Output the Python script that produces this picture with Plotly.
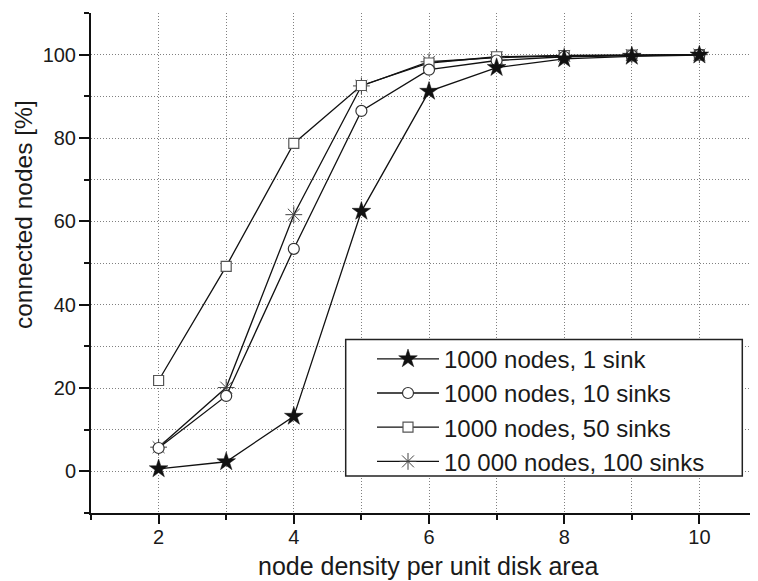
import plotly.graph_objects as go

density = [2, 3, 4, 5, 6, 7, 8, 9, 10]

s_1000_1 = [0.6, 2.3, 13.2, 62.4, 91.2, 96.9, 99.0, 99.6, 99.9]
s_1000_10 = [5.6, 18.1, 53.4, 86.5, 96.4, 98.6, 99.5, 99.8, 100.0]
s_1000_50 = [21.8, 49.2, 78.7, 92.6, 98.0, 99.5, 99.8, 99.9, 100.0]
s_10000_100 = [5.8, 20.1, 61.6, 92.5, 98.3, 99.3, 99.7, 99.9, 100.0]

names = ["1000 nodes, 1 sink", "1000 nodes, 10 sinks",
         "1000 nodes, 50 sinks", "10 000 nodes, 100 sinks"]

FONT = "Liberation Sans, Arial, Helvetica, sans-serif"
TXT = "#1a1a1a"

fig = go.Figure()

fig.add_trace(go.Scatter(
    x=density, y=s_10000_100, name=names[3], mode="lines+markers",
    line=dict(color="#111", width=1.3),
    marker=dict(symbol="asterisk-open", size=14, color="#444",
                line=dict(color="#444", width=1)),
    legendrank=4))
fig.add_trace(go.Scatter(
    x=density, y=s_1000_50, name=names[2], mode="lines+markers",
    line=dict(color="#111", width=1.3),
    marker=dict(symbol="square", size=10, color="white",
                line=dict(color="#555", width=1.2)),
    legendrank=3))
fig.add_trace(go.Scatter(
    x=density, y=s_1000_10, name=names[1], mode="lines+markers",
    line=dict(color="#111", width=1.3),
    marker=dict(symbol="circle", size=11, color="white",
                line=dict(color="#333", width=1.2)),
    legendrank=2))
fig.add_trace(go.Scatter(
    x=density, y=s_1000_1, name=names[0], mode="lines+markers",
    line=dict(color="#111", width=1.3),
    marker=dict(symbol="star", size=14, color="#111",
                line=dict(color="#111", width=0.5)),
    legendrank=1))

OFF = 8  # page body margin
PW, PH = 758, 581          # window size
L, T, R, Bt = 91, 13, 758, 512.7   # plot area in window pixels
W, H = PW - OFF, PH - OFF
pw = R - L
ph = Bt - T


def px_x(x):
    return (x - L) / pw


def px_y(y):
    return (Bt - y) / ph


# legend frame (drawn as a box behind the legend entries)
LEG = dict(x0=345.7, x1=742.3, y0=339.3, y1=475.7)

fig.update_layout(
    width=W, height=H,
    margin=dict(l=L - OFF, r=0, t=T - OFF, b=PH - Bt, pad=0),
    paper_bgcolor="white", plot_bgcolor="white",
    font=dict(family=FONT, color=TXT),
    showlegend=True,
    legend=dict(
        x=px_x(372), y=px_y(336.5),
        xanchor="left", yanchor="top",
        bgcolor="rgba(0,0,0,0)", borderwidth=0,
        font=dict(family=FONT, size=24, color=TXT),
        itemwidth=62, tracegroupgap=0,
    ),
    shapes=[dict(
        type="rect", xref="paper", yref="paper",
        x0=px_x(LEG["x0"]), x1=px_x(LEG["x1"]),
        y0=px_y(LEG["y1"]), y1=px_y(LEG["y0"]),
        fillcolor="white", line=dict(color="#222", width=1.5), layer="above",
    )],
    xaxis=dict(
        range=[1, 1 + pw / 67.6],
        tick0=0, dtick=2,
        showline=True, linecolor="#111", linewidth=2,
        ticks="outside", ticklen=9, tickwidth=2, tickcolor="#111",
        tickfont=dict(family=FONT, size=20, color=TXT),
        ticklabelstandoff=-4,
        showgrid=True, gridcolor="#808080", gridwidth=1, griddash="1px,2px",
        zeroline=False,
        minor=dict(dtick=1, tick0=0, ticks="outside", ticklen=5, tickwidth=1.5,
                   tickcolor="#111", showgrid=True, gridcolor="#808080",
                   gridwidth=1, griddash="1px,2px"),
    ),
    yaxis=dict(
        range=[-10, 110],
        tick0=0, dtick=20,
        showline=True, linecolor="#111", linewidth=2,
        ticks="outside", ticklen=10, tickwidth=2, tickcolor="#111",
        tickfont=dict(family=FONT, size=20, color=TXT),
        ticklabelstandoff=-1,
        showgrid=True, gridcolor="#808080", gridwidth=1, griddash="1px,2px",
        zeroline=False,
        minor=dict(dtick=10, tick0=0, ticks="outside", ticklen=5, tickwidth=1.5,
                   tickcolor="#111", showgrid=True, gridcolor="#808080",
                   gridwidth=1, griddash="1px,2px"),
    ),
    annotations=[
        dict(text="node density per unit disk area", xref="paper", yref="paper",
             x=px_x(428), y=px_y(566), xanchor="center", yanchor="middle",
             showarrow=False, font=dict(family=FONT, size=25, color=TXT)),
        dict(text="connected nodes [%]", xref="paper", yref="paper",
             x=px_x(23), y=px_y(215), xanchor="center", yanchor="middle",
             textangle=-90, showarrow=False, font=dict(family=FONT, size=24.5, color=TXT)),
    ],
)

fig.write_html("out.html")
